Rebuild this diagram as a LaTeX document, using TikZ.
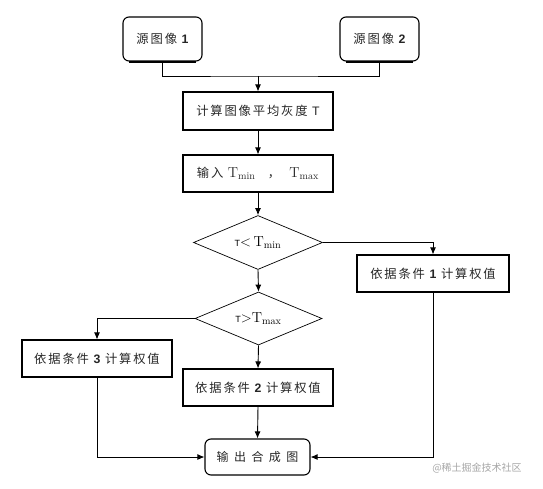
\documentclass[tikz,border=0pt]{standalone}
\usepackage{fontspec}
\usetikzlibrary{shapes.geometric,arrows.meta}
\newfontfamily\cjk[LetterSpace=15]{Noto Sans CJK SC}
\newfontfamily\cjkw[LetterSpace=45]{Noto Sans CJK SC}
\newfontfamily\wm{Noto Sans CJK SC}
\newfontfamily\lat{Liberation Sans}
\newcommand{\dg}[1]{{\lat\bfseries #1}}
\newcommand{\Tm}[1]{{\fontsize{14.5}{16}\selectfont$\mathrm{T}_{\mathrm{#1}}$}}
\tikzset{
  box/.style={draw, line width=1.1pt, minimum width=150pt, minimum height=37pt, inner sep=0pt, font=\fontsize{12.3}{14}\cjk, text=black!85},
  rbox/.style={box, rounded corners=6pt},
  dec/.style={draw, diamond, line width=0.7pt, aspect=2.4, inner sep=0pt, font=\fontsize{12}{14}\selectfont},
  conn/.style={line width=0.9pt},
  arr/.style={conn, -{Latex[length=7pt,width=6pt]}}
}
\begin{document}
\begin{tikzpicture}[x=1pt,y=-1pt]
\useasboundingbox (0,0) rectangle (543,489);
\node[rbox, minimum width=79pt, minimum height=44pt] (s1) at (162.5,39) {源图像 \dg{1}};
\node[rbox, minimum width=79pt, minimum height=44pt] (s2) at (379.5,39) {源图像 \dg{2}};
\draw[line width=2pt] ([xshift=7pt]s1.south west) -- ([xshift=-7pt]s1.south east);
\draw[line width=2pt] ([xshift=7pt]s2.south west) -- ([xshift=-7pt]s2.south east);
\node[box, minimum height=38pt] (calc) at (258,111) {计算图像平均灰度 {\lat T}};
\node[box] (inp) at (258,173.5) {输入 \Tm{min}\quad ，\ \ \Tm{max}};
\node[dec, minimum width=129pt, minimum height=54pt] (d1) at (258,242.5) {{\lat\small T}{\fontsize{14.5}{16}\selectfont$<$\,}\Tm{min}};
\node[dec, minimum width=127pt, minimum height=53pt] (d2) at (258.5,318.5) {{\lat\small T}{\fontsize{14.5}{16}\selectfont$>$}\Tm{max}};
\node[box, minimum width=152pt] (b1) at (433,273.5) {依据条件 \dg{1} 计算权值};
\node[box] (b3) at (97,358.5) {依据条件 \dg{3} 计算权值};
\node[box] (b2) at (258,387.5) {依据条件 \dg{2} 计算权值};
\node[rbox, minimum width=105pt, minimum height=36pt, font=\fontsize{12}{14}\cjkw] (out) at (257.5,457) {输出合成图};
\coordinate (j) at (258,76);
\draw[conn] (s1.south) |- (j) -| (s2.south);
\draw[arr] (j) -- (calc.north);
\draw[arr] (calc.south) -- (inp.north);
\draw[arr] (inp.south) -- (d1.north);
\draw[arr] (d1.south) -- (d2.north);
\draw[arr] (d1.east) -| (b1.north);
\draw[arr] (d2.west) -| (b3.north);
\draw[arr] (d2.south) -- (b2.north);
\draw[arr] (b2.south) -- (out.north);
\draw[arr] (b3.south) |- (out.west);
\draw[arr] (b1.south) |- (out.east);
\node[font=\fontsize{10}{12}\wm, text=black!35] (wm) at (477,468) {@稀土掘金技术社区};
\end{tikzpicture}
\end{document}
